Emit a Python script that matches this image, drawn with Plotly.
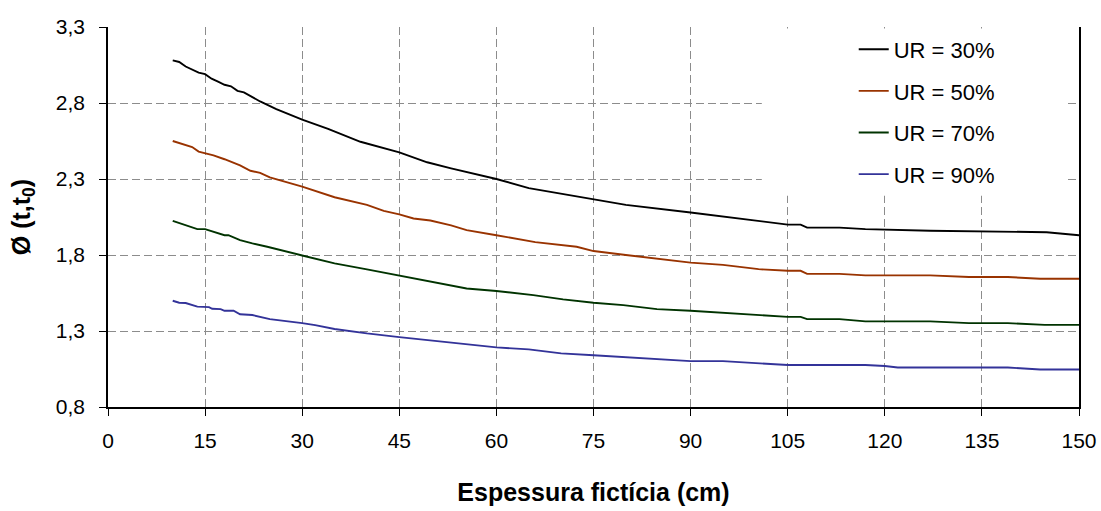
import plotly.graph_objects as go

# Espessura fictícia (cm) and creep coefficient readings for each relative humidity
x_ur30 = [10, 11, 12, 13, 14, 15, 16, 17, 18, 19, 20, 21, 22.3, 23.5, 26, 30, 34, 39, 45,
          49.3, 53, 60, 65, 75, 80, 90, 100.7, 105, 107, 108, 113, 117, 127, 135, 139, 145, 150]
ur30 = [3.08, 3.07, 3.04, 3.02, 3.00, 2.99, 2.96, 2.94, 2.92, 2.91, 2.88, 2.87, 2.84, 2.81,
        2.76, 2.69, 2.63, 2.545, 2.475, 2.41, 2.37, 2.30, 2.24, 2.17, 2.13, 2.08, 2.02, 2.00,
        2.00, 1.98, 1.98, 1.97, 1.96, 1.955, 1.95, 1.95, 1.93]

x_ur50 = [10, 11.2, 13, 14, 15, 16.3, 18, 19.2, 20.4, 22, 23.5, 25, 30, 35, 40, 42.6, 45, 47.2,
          49.8, 53, 55.4, 60, 66, 72.4, 75, 80, 90, 95, 100.5, 105, 107, 108, 113, 117, 127,
          133, 139, 144, 150]
ur50 = [2.55, 2.534, 2.51, 2.48, 2.47, 2.455, 2.43, 2.41, 2.39, 2.354, 2.34, 2.31, 2.25, 2.18,
        2.13, 2.09, 2.067, 2.04, 2.027, 1.995, 1.964, 1.93, 1.885, 1.854, 1.826, 1.80, 1.75,
        1.735, 1.707, 1.696, 1.696, 1.676, 1.676, 1.666, 1.666, 1.655, 1.655, 1.644, 1.644]

x_ur70 = [10, 11.2, 13.8, 15, 16.3, 18, 18.6, 20.4, 22.3, 24.6, 30, 35, 40, 45, 49.3, 53, 55.4,
          60, 65.7, 70.3, 75, 79.6, 84.8, 90, 95, 100.5, 105, 107, 108, 113, 117, 127, 133,
          139, 144.7, 150]
ur70 = [2.025, 2.008, 1.97, 1.97, 1.953, 1.93, 1.93, 1.898, 1.876, 1.854, 1.797, 1.745, 1.705,
        1.666, 1.63, 1.602, 1.58, 1.563, 1.536, 1.508, 1.486, 1.47, 1.444, 1.433, 1.42, 1.405,
        1.393, 1.393, 1.378, 1.378, 1.363, 1.363, 1.352, 1.352, 1.34, 1.34]

x_ur90 = [10, 11, 12, 13.8, 15.6, 16.1, 17.4, 18, 19.4, 20.4, 22.3, 25, 30, 32, 35, 40, 45, 50,
          53, 60, 65, 70, 75, 80, 85, 90, 95, 100.5, 105, 117, 120, 122, 139, 144, 150]
ur90 = [1.499, 1.486, 1.484, 1.46, 1.457, 1.446, 1.444, 1.433, 1.433, 1.41, 1.405, 1.378, 1.352,
        1.339, 1.313, 1.284, 1.26, 1.236, 1.225, 1.192, 1.179, 1.153, 1.14, 1.126, 1.113, 1.102,
        1.102, 1.087, 1.076, 1.076, 1.07, 1.06, 1.06, 1.047, 1.047]

series_names = ["UR = 30%", "UR = 50%", "UR = 70%", "UR = 90%"]
series_colors = ["#000000", "#993300", "#003300", "#333399"]

x_tick_vals = [0, 15, 30, 45, 60, 75, 90, 105, 120, 135, 150]
y_tick_vals = [0.8, 1.3, 1.8, 2.3, 2.8, 3.3]
y_tick_text = ["0,8", "1,3", "1,8", "2,3", "2,8", "3,3"]

FONT = "Liberation Sans, Arial, sans-serif"

fig = go.Figure()
for name, color, xs, ys in zip(series_names, series_colors,
                               [x_ur30, x_ur50, x_ur70, x_ur90],
                               [ur30, ur50, ur70, ur90]):
    fig.add_trace(go.Scatter(x=xs, y=ys, mode="lines", name=name, legendgroup=name,
                             line=dict(color=color, width=1.9)))

# white legend panel hiding the grid behind the legend entries
fig.add_shape(type="rect", layer="between", xref="x", yref="y",
              x0=101, x1=148.2, y0=2.19, y1=3.29,
              fillcolor="white", line=dict(width=0))

grid = dict(showgrid=True, gridcolor="#8c8c8c", gridwidth=1, griddash="8px,4px")

fig.update_layout(
    width=1101, height=511,
    margin=dict(l=107.5, r=22, t=27, b=104, autoexpand=False),
    paper_bgcolor="white", plot_bgcolor="white",
    font=dict(family=FONT, size=21, color="black"),
    showlegend=True,
    legend=dict(x=0.768, y=0.996, xanchor="left", yanchor="top",
                bgcolor="rgba(0,0,0,0)", font=dict(size=22),
                tracegroupgap=10, itemwidth=30),
    xaxis=dict(range=[0, 150], tickvals=x_tick_vals, ticks="outside", ticklen=7,
               tickcolor="black", showline=True, linecolor="black", linewidth=1.5,
               zeroline=False, tickfont=dict(size=21), ticklabelstandoff=7,
               automargin=False,
               title=dict(text="<b>Espessura fictícia (cm)</b>", font=dict(size=25),
                          standoff=33),
               **grid),
    yaxis=dict(range=[0.8, 3.3], tickvals=y_tick_vals, ticktext=y_tick_text,
               ticks="outside", ticklen=7, tickcolor="black", showline=True,
               linecolor="black", linewidth=1.5, mirror=True, zeroline=False,
               tickfont=dict(size=21), ticklabelstandoff=10, automargin=False,
               title=dict(text="<b>Ø (t,t<sub>0</sub>)</b>", font=dict(size=25),
                          standoff=18),
               **grid),
)

fig.write_html("out.html")
